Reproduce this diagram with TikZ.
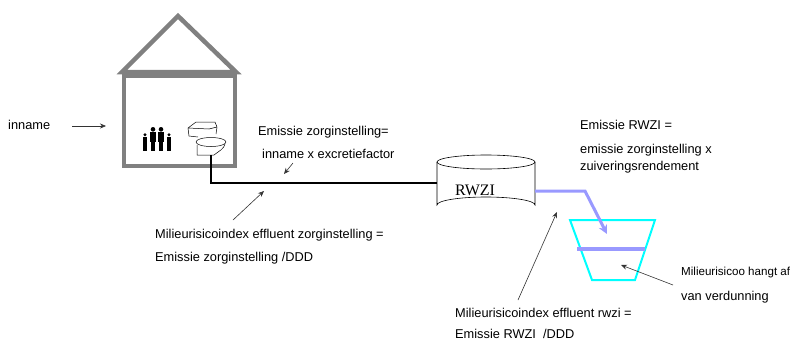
\documentclass[tikz,border=0pt]{standalone}
\usepackage{fontspec}
\setmainfont{Liberation Sans}
\newfontfamily\serifface{Liberation Serif}
\usetikzlibrary{arrows.meta}
\definecolor{wallgray}{RGB}{128,128,128}
\definecolor{flowpurple}{RGB}{153,153,255}
\definecolor{basincyan}{RGB}{0,255,255}
\tikzset{
  label text/.style={anchor=base west, inner sep=0pt, font=\fontsize{12.8}{14}\selectfont},
  pointer/.style={-{Stealth[length=6pt,width=5pt]}, line width=0.6pt, black!80},
  wall/.style={draw=wallgray, line width=4.5pt},
  sewer/.style={line width=1.2pt, black},
  effluent/.style={line width=3pt, flowpurple},
  sketch/.style={line width=0.5pt, line join=round},
}
\begin{document}
\begin{tikzpicture}[x=1pt,y=-1pt]
\useasboundingbox (0,0) rectangle (798,341);

% house
\draw[wall, line join=miter] (122,72) -- (178,16) -- (236,72) -- cycle;
\draw[wall] (124,76) rectangle (235,166);

% family
\foreach \px/\ph in {145/18,153/24,161/24,169/18}{
  \pgfmathsetmacro{\s}{\ph/24}
  \pgfmathsetmacro{\tp}{151-\ph}
  \fill[black] (\px,\tp+2.3*\s) circle[radius=2.3*\s];
  \fill[black] (\px-3.2*\s,\tp+5.2*\s) rectangle (\px+3.2*\s,\tp+15*\s);
  \fill[black] (\px-2.2*\s,\tp+14*\s) rectangle (\px+2.2*\s,151);
}

% toilet: cistern, bowl and pedestal
\draw[sketch] (188,128) -- (196,122) -- (215,122) -- (217,127) -- (209,129) -- cycle;
\draw[sketch] (188,128) -- (189,136) -- (198,137);
\draw[sketch] (217,127) -- (216,134);
\draw[sketch, fill=white] (211,142) ellipse[x radius=15, y radius=4.5];
\draw[sketch] (197,145) -- (197,155) -- (214,155) .. controls (219,151) and (224,149) .. (225,144);
\coordinate (toilet) at (211,155);

% treatment plant (cylinder)
\node[inner sep=0pt, minimum width=98pt, minimum height=43pt] (rwzi) at (486,186) {};
\draw[line width=0.6pt, fill=white] (437,162) -- (437,205) arc[start angle=180, end angle=360, x radius=49, y radius=8] -- (535,162);
\draw[line width=0.6pt] (486,162) ellipse[x radius=49, y radius=7];
\node[inner sep=0pt, font=\serifface\fontsize{16}{18}\selectfont] at ([xshift=-11pt,yshift=-4pt]rwzi.center) {RWZI};
\coordinate (rwziin) at (437,183);
\coordinate (rwziout) at (535,191);

% sewer pipe from the toilet to the plant
\draw[sewer] (toilet) |- (rwziin);

% receiving water
\draw[basincyan, line width=2pt] (570,220) -- (655,220) -- (635,280) -- (592,280) -- cycle;
\draw[flowpurple, line width=3.5pt] (577,249) -- (645,249);
\coordinate (bend) at (585,191);
\coordinate (inlet) at (607,234);
\draw[effluent, -{Stealth[length=9pt,width=9pt]}] (rwziout) -- (bend) -- (inlet);

% texts
\node[label text] (inname) at (8,129) {inname};
\coordinate (innameA) at (72,126);
\coordinate (innameB) at (106,126);
\draw[pointer] (innameA) -- (innameB);

\node[label text] (ez1) at (258,135) {Emissie zorginstelling=};
\node[label text] (ez2) at (262,158) {inname x excretiefactor};
\coordinate (ezA) at (293,163);
\coordinate (ezB) at (284,174);
\draw[pointer] (ezA) -- (ezB);

\node[label text] (mz1) at (155,238) {Milieurisicoindex effluent zorginstelling =};
\node[label text] (mz2) at (155,261) {Emissie zorginstelling /DDD};
\coordinate (mzA) at (233,220);
\coordinate (mzB) at (264,191);
\draw[pointer] (mzA) -- (mzB);

\node[label text] (er1) at (580,129) {Emissie RWZI =};
\node[label text] (er2) at (580,153) {emissie zorginstelling x};
\node[label text] (er3) at (580,170) {zuiveringsrendement};

\node[label text] (mr1) at (455,317) {Milieurisicoindex effluent rwzi =};
\node[label text] (mr2) at (455,338) {Emissie RWZI\ \ /DDD};
\coordinate (mrA) at (518,300);
\coordinate (mrB) at (557,212);
\draw[pointer] (mrA) -- (mrB);

\node[label text, font=\fontsize{11.6}{13}\selectfont] (mh1) at (681,275) {Milieurisicoo hangt af};
\node[label text] (mh2) at (681,300) {van verdunning};
\coordinate (mhA) at (673,285);
\coordinate (mhB) at (621,265);
\draw[pointer] (mhA) -- (mhB);
\end{tikzpicture}
\end{document}
